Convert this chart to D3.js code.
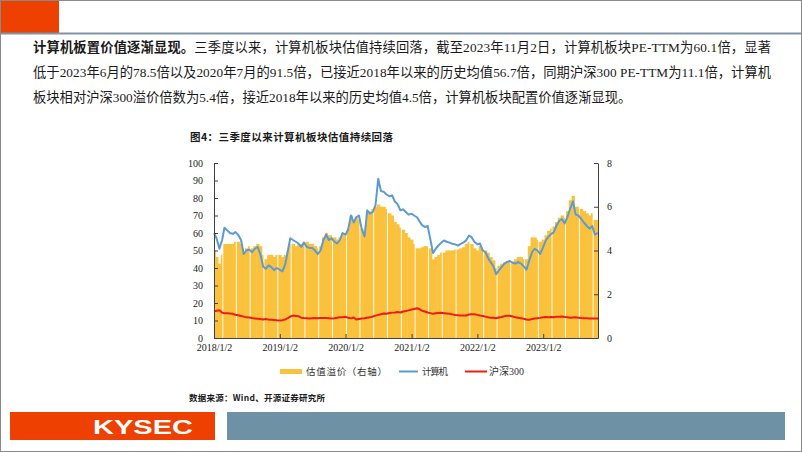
<!DOCTYPE html>
<html><head><meta charset="utf-8">
<script src="https://cdn.jsdelivr.net/npm/d3@7"></script>
<style>body{margin:0;background:#fff}svg{display:block}</style>
</head><body><svg id="c" width="802" height="452"></svg>
<script>
const dates = [
"2018-01-02","2018-01-16","2018-02-01","2018-02-16","2018-03-01","2018-03-16","2018-04-01","2018-04-16","2018-05-01","2018-05-16","2018-06-01","2018-06-16","2018-07-01","2018-07-16","2018-08-01","2018-08-16","2018-09-01","2018-09-16","2018-10-01","2018-10-16","2018-11-01","2018-11-16","2018-12-01","2018-12-16",
"2019-01-02","2019-01-16","2019-02-01","2019-02-16","2019-03-01","2019-03-16","2019-04-01","2019-04-16","2019-05-01","2019-05-16","2019-06-01","2019-06-16","2019-07-01","2019-07-16","2019-08-01","2019-08-16","2019-09-01","2019-09-16","2019-10-01","2019-10-16","2019-11-01","2019-11-16","2019-12-01","2019-12-16",
"2020-01-02","2020-01-16","2020-02-01","2020-02-16","2020-03-01","2020-03-16","2020-04-01","2020-04-16","2020-05-01","2020-05-16","2020-06-01","2020-06-16","2020-07-01","2020-07-16","2020-08-01","2020-08-16","2020-09-01","2020-09-16","2020-10-01","2020-10-16","2020-11-01","2020-11-16","2020-12-01","2020-12-16",
"2021-01-02","2021-01-16","2021-02-01","2021-02-16","2021-03-01","2021-03-16","2021-04-01","2021-04-16","2021-05-01","2021-05-16","2021-06-01","2021-06-16","2021-07-01","2021-07-16","2021-08-01","2021-08-16","2021-09-01","2021-09-16","2021-10-01","2021-10-16","2021-11-01","2021-11-16","2021-12-01","2021-12-16",
"2022-01-02","2022-01-16","2022-02-01","2022-02-16","2022-03-01","2022-03-16","2022-04-01","2022-04-16","2022-05-01","2022-05-16","2022-06-01","2022-06-16","2022-07-01","2022-07-16","2022-08-01","2022-08-16","2022-09-01","2022-09-16","2022-10-01","2022-10-16","2022-11-01","2022-11-16","2022-12-01","2022-12-16",
"2023-01-02","2023-01-16","2023-02-01","2023-02-16","2023-03-01","2023-03-16","2023-04-01","2023-04-16","2023-05-01","2023-05-16","2023-06-01","2023-06-16","2023-07-01","2023-07-16","2023-08-01","2023-08-16","2023-09-01","2023-09-16","2023-10-01","2023-10-16","2023-11-02"];

// 计算机 PE-TTM (left axis)
const computer = [
60,57,51,56,63,61.5,60,59.5,60.5,59,56,48,50,50.5,49,51,52,48,41,39.5,41.5,40.5,38.8,40,
39,38,42,50,57,56,55,54,52,54.5,52,51.5,51.5,50,48,50,56,59,56,57,55,54,56,60,
59,62,70,66,69,70,62,58,73,71,72,76,91,84,83.5,82,81,81.5,78,76.5,73,73.5,72,70.5,
71,70,69,66.5,64.5,63.5,64,56.5,48.5,51,53,54.5,55.7,55,54.5,53.8,53.5,52.8,53.8,54.5,55.8,58.5,57.6,55,
53.5,54,50,49,46,43.4,41,36.5,38.6,40.5,42.5,43.5,44,43,42.5,43.5,42.5,41,39,44,49,51,50,48,
52,55.7,58,59.5,60.4,64,67,68,65.5,69,74,78,70.5,70,68,66,64,62.5,64,59,60.1];

// 沪深300 PE-TTM (left axis)
const hs300 = [
15.2,15.6,15.8,14.5,14.2,14.2,14,13.8,13.3,13,12.6,12.2,11.8,11.7,11.4,11.2,11,10.8,10.6,10.8,10.5,10.4,10.3,10.1,
10,10.2,10.6,11.4,12.3,12.8,12.6,12.4,11.6,11.4,11.3,11.2,11.3,11.4,11.3,11.4,11.5,11.4,11.3,11.2,11.3,11.6,11.8,11.9,
12.1,11.6,11.2,11.7,10.6,10.9,11.2,11.3,11.6,11.8,12.3,12.8,13.2,13.6,14,13.9,14.3,14.5,14.6,14.8,14.6,15.1,15.4,15.8,
16.3,16.6,17,16.4,15.6,15.1,14.6,14.2,13.8,14.1,14.3,14.4,14.2,14,13.8,13.5,13.2,13,12.8,12.8,12.9,13.4,13.6,13.6,
13.2,12.9,12.6,12.2,11.8,11.6,11.6,11.3,11.7,12,12.4,12.7,12.7,12.3,11.8,11.6,11.3,11,10.6,10.4,10.8,11.1,11.3,11.5,
11.8,12,11.9,12,11.9,12.1,12.2,12.3,12,11.8,11.6,11.7,11.8,11.6,11.4,11.3,11.3,11.2,11.2,11.1,11.1];

// 估值溢价 (right axis)
const premium = [
4.0,3.7,3.4,3.8,4.3,4.3,4.3,4.3,4.4,4.4,4.3,3.9,4.1,4.2,4.1,4.2,4.3,4.2,3.8,3.6,3.8,3.8,3.7,3.8,
3.8,3.7,3.8,4.0,4.3,4.3,4.2,4.3,4.3,4.4,4.4,4.3,4.3,4.2,4.1,4.2,4.6,4.8,4.7,4.7,4.6,4.5,4.6,4.8,
4.8,5.0,5.6,5.4,5.5,5.4,5.0,4.8,5.8,5.8,5.9,6.0,6.1,6.0,6.0,5.9,5.7,5.6,5.3,5.2,5.05,4.95,4.8,4.6,
4.5,4.3,4.1,4.1,4.15,4.2,4.2,4.1,3.6,3.7,3.8,3.9,3.9,4.0,4.0,4.0,4.05,4.05,4.1,4.15,4.3,4.4,4.3,4.1,
4.0,4.2,4.0,4.0,3.9,3.7,3.55,3.2,3.3,3.4,3.45,3.5,3.5,3.5,3.6,3.7,3.7,3.6,3.6,4.2,4.6,4.6,4.5,4.4,
4.5,4.7,4.9,5.0,5.1,5.3,5.5,5.6,5.5,5.8,6.3,6.5,6.0,6.0,5.9,5.8,5.7,5.6,5.7,5.4,5.4];

const leftTicks = [0,10,20,30,40,50,60,70,80,90,100];
const rightTicks = [0,2,4,6,8];
const xTickDates = ["2018-01-02","2019-01-02","2020-01-02","2021-01-02","2022-01-02","2023-01-02"];
const xTickLabels = ["2018/1/2","2019/1/2","2020/1/2","2021/1/2","2022/1/2","2023/1/2"];
const seriesNames = ["估值溢价（右轴）","计算机","沪深300"];

const paraLines = [
  [["计算机板置价值逐渐显现。",true],["三季度以来，计算机板块估值持续回落，截至2023年11月2日，计算机板块PE-TTM为60.1倍，显著",false]],
  [["低于2023年6月的78.5倍以及2020年7月的91.5倍，已接近2018年以来的历史均值56.7倍，同期沪深300 PE-TTM为11.1倍，计算机",false]],
  [["板块相对沪深300溢价倍数为5.4倍，接近2018年以来的历史均值4.5倍，计算机板块配置价值逐渐显现。",false]]
];
const chartTitle = "图4：三季度以来计算机板块估值持续回落";
const sourceText = "数据来源：Wind、开源证券研究所";

const C = {bar:"#FAC23C", blue:"#5B9BD5", red:"#EE1C0E", axis:"#404040", orange:"#EE4000", slate:"#6E91A5"};
const serif = "'Liberation Serif','Noto Sans CJK SC',serif";
const cjk = "'Noto Sans CJK SC',sans-serif";

const svg = d3.select("#c");
const parse = d3.timeParse("%Y-%m-%d");
const D = dates.map(parse);

// frame & header/footer
svg.append("rect").attr("x",0.5).attr("y",0.5).attr("width",801).attr("height",451).attr("fill","#fff").attr("stroke","#8a8a8a");
svg.append("rect").attr("x",1).attr("y",1).attr("width",58).attr("height",32).attr("fill",C.orange);
svg.append("line").attr("x1",1).attr("x2",801).attr("y1",33.5).attr("y2",33.5).attr("stroke","#7f95a7").attr("stroke-width",2);
svg.append("rect").attr("x",10).attr("y",412).attr("width",205).attr("height",28).attr("fill",C.orange);
svg.append("text").attr("x",93).attr("y",434).attr("fill","#fff").attr("font-family","'Liberation Sans',Arial,sans-serif")
  .attr("font-weight","bold").attr("font-size",21).attr("textLength",100).attr("lengthAdjust","spacingAndGlyphs").text("KYSEC");
svg.append("rect").attr("x",227).attr("y",412).attr("width",558).attr("height",28).attr("fill",C.slate);

// paragraph
const paraY = [52,77,102], paraEnd = [771,771,null];
paraLines.forEach((segs,i)=>{
  const t = svg.append("text").attr("x",33).attr("y",paraY[i]).attr("font-family",serif).attr("font-size",13.3).attr("fill","#1a1a1a");
  if (paraEnd[i]) t.attr("textLength",paraEnd[i]-33).attr("lengthAdjust","spacing");
  segs.forEach(([s,b])=>t.append("tspan").attr("font-weight",b?"bold":"normal").attr("font-family",b?cjk:serif).text(s));
});

// chart title
svg.append("text").attr("x",190).attr("y",141).attr("font-family",cjk).attr("font-weight","bold").attr("font-size",10.5)
  .attr("textLength",203).attr("lengthAdjust","spacing").attr("fill","#1a1a1a").text(chartTitle);

// scales
const x = d3.scaleTime().domain([D[0], D[D.length-1]]).range([214,598]);
const yL = d3.scaleLinear().domain([0,100]).range([338,163]);
const yR = d3.scaleLinear().domain([0,8]).range([338,163]);

// bars
const n = D.length;
const g = svg.append("g");
premium.forEach((v,i)=>{
  const xi = x(D[i]);
  const left = i===0 ? xi : (x(D[i-1])+xi)/2;
  let right = i===n-1 ? xi : (xi+x(D[i+1]))/2;
  let w = right-left + 0.6;
  if (i%5===3) w = right-left-0.9;
  if (left + w > 598) w = 598-left;
  g.append("rect").attr("x",left).attr("y",yR(v)).attr("width",Math.max(w,0.5)).attr("height",yR(0)-yR(v))
    .attr("fill",C.bar);
});

// lines
const lineL = d3.line().x((d,i)=>x(D[i])).y(d=>yL(d));
svg.append("path").datum(hs300).attr("d",lineL).attr("fill","none").attr("stroke",C.red).attr("stroke-width",2).attr("stroke-linejoin","round");
svg.append("path").datum(computer).attr("d",lineL).attr("fill","none").attr("stroke",C.blue).attr("stroke-width",2).attr("stroke-linejoin","round");

// axes
function styleAxis(sel){
  sel.selectAll("path").attr("stroke",C.axis);
  sel.selectAll("line").attr("stroke",C.axis);
  sel.selectAll("text").attr("font-family",serif).attr("font-size",10).attr("fill","#1a1a1a");
}
const ax = svg.append("g").attr("transform","translate(214,0)")
  .call(d3.axisLeft(yL).tickValues(leftTicks).tickSize(-4).tickSizeOuter(0).tickPadding(11));
styleAxis(ax);
const ar = svg.append("g").attr("transform","translate(598,0)")
  .call(d3.axisRight(yR).tickValues(rightTicks).tickSize(-4).tickSizeOuter(0).tickPadding(9));
styleAxis(ar);
const ab = svg.append("g").attr("transform","translate(0,338)")
  .call(d3.axisBottom(x).tickValues(xTickDates.map(parse)).tickFormat((d,i)=>xTickLabels[i]).tickSize(-4).tickSizeOuter(0).tickPadding(6));
styleAxis(ab);

// legend
const lg = svg.append("g");
lg.append("rect").attr("x",280).attr("y",369).attr("width",22).attr("height",5).attr("fill",C.bar);
lg.append("text").attr("x",306).attr("y",375).attr("font-family",cjk).attr("font-size",9.5).attr("textLength",81).attr("lengthAdjust","spacing").attr("fill","#333").text(seriesNames[0]);
lg.append("line").attr("x1",399).attr("x2",418).attr("y1",371.5).attr("y2",371.5).attr("stroke",C.blue).attr("stroke-width",2);
lg.append("text").attr("x",422).attr("y",375).attr("font-family",cjk).attr("font-size",9.5).attr("textLength",26).attr("lengthAdjust","spacing").attr("fill","#333").text(seriesNames[1]);
lg.append("line").attr("x1",465).attr("x2",487).attr("y1",371.5).attr("y2",371.5).attr("stroke",C.red).attr("stroke-width",2);
lg.append("text").attr("x",489).attr("y",375).attr("font-family",serif).attr("font-size",10).attr("fill","#333").text(seriesNames[2]);

// source
svg.append("text").attr("x",189).attr("y",401).attr("font-family",cjk).attr("font-weight","bold").attr("font-size",8.5)
  .attr("textLength",136).attr("lengthAdjust","spacing").attr("fill","#1a1a1a").text(sourceText);
</script></body></html>
